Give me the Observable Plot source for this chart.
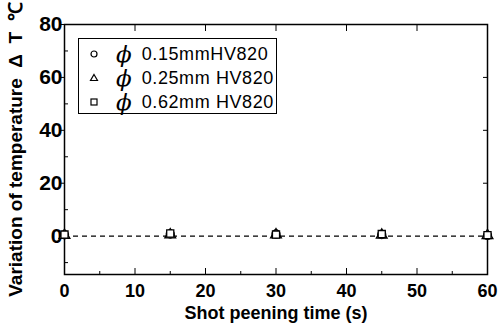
<!DOCTYPE html>
<html><head><meta charset="utf-8">
<script src="https://cdn.jsdelivr.net/npm/d3@7"></script>
<script src="https://cdn.jsdelivr.net/npm/@observablehq/plot@0.6"></script>
<style>
body{margin:0;background:#fff;}
#wrap{position:relative;width:501px;height:331px;}
#legend{position:absolute;left:78px;top:38px;width:197px;height:74px;border:1.5px solid #000;background:#fff;font-family:"Liberation Sans",Arial,sans-serif;font-size:18px;letter-spacing:0.6px;}
.row{position:absolute;left:0;height:24px;line-height:20px;display:flex;align-items:center;}
.row svg{margin-left:9px;}
.phi{display:inline-block;font-style:italic;font-size:23px;line-height:20px;height:20px;margin-left:16px;padding-right:4px;margin-right:6px;font-family:"DejaVu Serif",serif;letter-spacing:0;}
</style></head>
<body><div id="wrap"></div>
<script>
const times = [0, 15, 30, 45, 60];
const s015 = [0.5, 0.8, 0.8, 0.6, 0.3];
const s025 = [0.3, 0.5, 0.5, 0.4, 0.2];
const s062 = [0.6, 1.0, 0.6, 0.8, 0.4];
const seriesNames = ["0.15mmHV820", "0.25mm HV820", "0.62mm HV820"];
const symbols = ["circle", "triangle", "square"];
const yMajor = [0, 20, 40, 60, 80];
const yMinor = [-10, 10, 30, 50, 70];
const xMajor = [0, 10, 20, 30, 40, 50, 60];
const xMinor = [5, 15, 25, 35, 45, 55];

const rows = [];
[s015, s025, s062].forEach((arr, k) => arr.forEach((v, i) => rows.push({t: times[i], v, s: k})));

const font = "Liberation Sans, Arial, sans-serif";
const chart = Plot.plot({
  width: 501, height: 331,
  marginLeft: 64, marginRight: 14, marginTop: 24, marginBottom: 57,
  style: {fontFamily: font, fontSize: "18px", background: "#fff", color: "#000"},
  x: {domain: [0, 60]},
  y: {domain: [-14.5, 80]},
  symbol: {domain: [0, 1, 2], range: symbols},
  marks: [
    Plot.frame({stroke: "#000", strokeWidth: 1.5}),
    Plot.ruleY([0], {stroke: "#000", strokeDasharray: "5,4", strokeWidth: 1.2}),
    Plot.axisX(xMajor, {anchor: "bottom", tickSize: -6, tickPadding: 16, label: "Shot peening time (s)", labelAnchor: "center", labelOffset: 44, labelArrow: "none", fontSize: 18, fontWeight: "bold"}),
    Plot.axisX(xMinor, {anchor: "bottom", tickSize: -3, tickFormat: () => "", label: null}),
    Plot.axisX(xMajor, {anchor: "top", tickSize: -6, tickFormat: () => "", label: null}),
    Plot.axisY(yMajor, {anchor: "left", tickSize: 4, tickPadding: -2, fontSize: 21, fontWeight: "bold", label: null}),
    Plot.axisY(yMinor, {anchor: "left", tickSize: -4, tickFormat: () => "", label: null}),
    Plot.axisY(yMajor, {anchor: "right", tickSize: -5, tickFormat: () => "", label: null}),
    Plot.axisY({anchor: "left", ticks: [], label: "Variation of temperature  Δ  T  ℃", labelAnchor: "center", labelOffset: 56, labelArrow: "none", fontSize: 19, fontWeight: "bold"}),
    Plot.dot(rows, {x: "t", y: "v", symbol: "s", r: 4, stroke: "#000", fill: "#fff", strokeWidth: 1.3})
  ]
});
document.getElementById("wrap").appendChild(chart);

// legend
const leg = document.createElement("div");
leg.id = "legend";
const shapes = {
  circle: '<circle cx="6" cy="6" r="3" fill="none" stroke="#000" stroke-width="1.2"/>',
  triangle: '<path d="M6,2.5 L9.5,8.5 L2.5,8.5 Z" fill="none" stroke="#000" stroke-width="1.2"/>',
  square: '<rect x="3" y="3" width="6" height="6" fill="none" stroke="#000" stroke-width="1.2"/>'
};
seriesNames.forEach((name, k) => {
  const r = document.createElement("div");
  r.className = "row";
  r.style.top = (3 + k * 24) + "px";
  r.innerHTML = `<svg width="12" height="12">${shapes[symbols[k]]}</svg><span class="phi">ϕ</span><span>${name}</span>`;
  leg.appendChild(r);
});
document.getElementById("wrap").appendChild(leg);
</script></body></html>
